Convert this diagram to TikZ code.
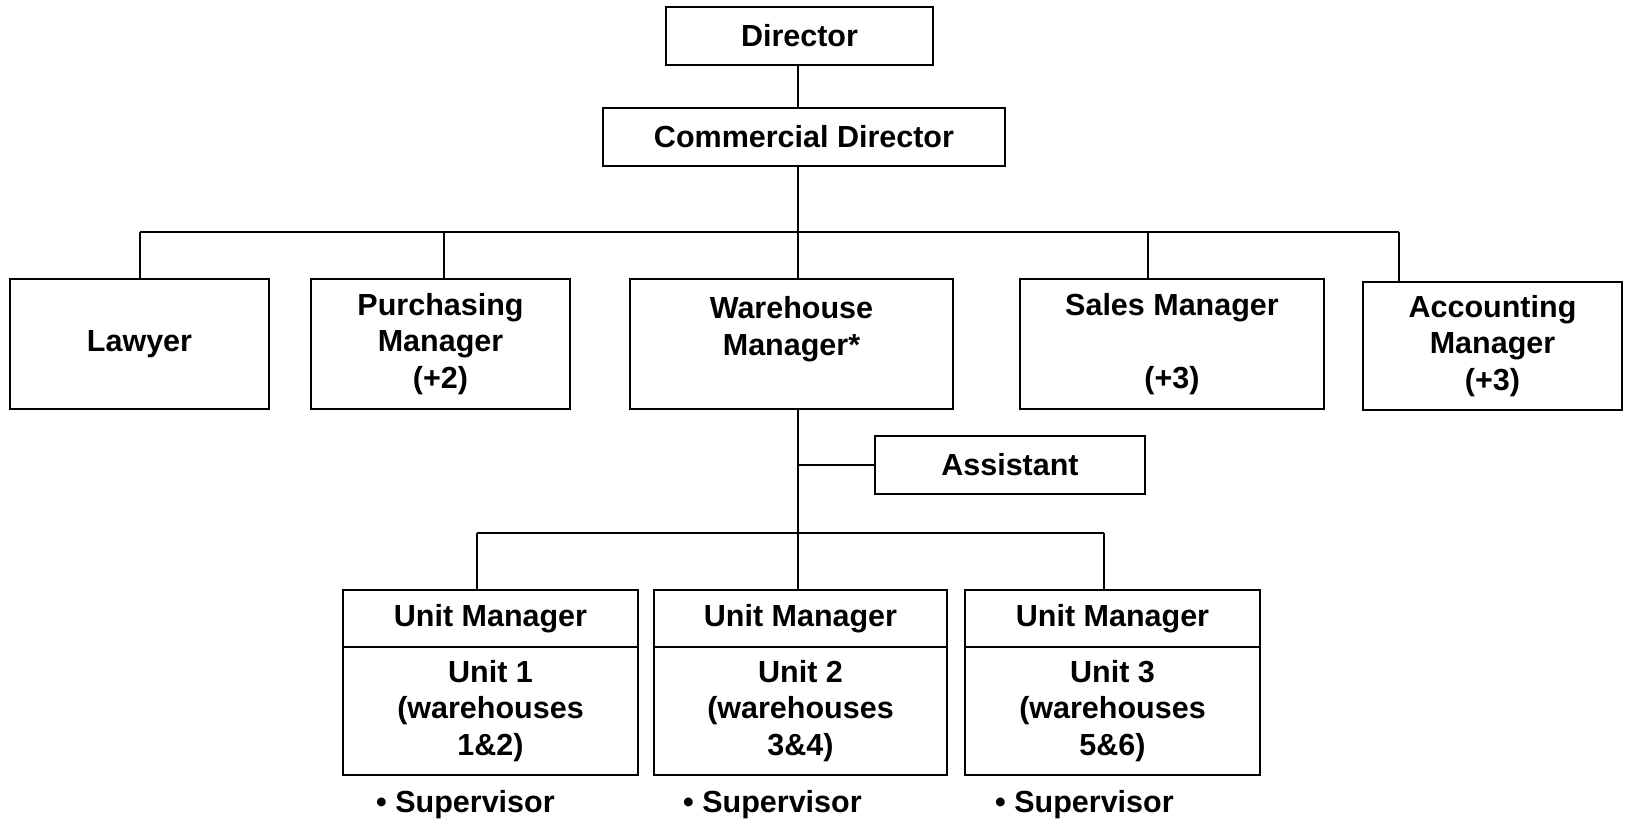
\documentclass[tikz,border=0pt]{standalone}
\usepackage{fontspec}
\setmainfont{Liberation Sans}
\begin{document}
\begin{tikzpicture}[x=1pt,y=-1pt,
  lbl/.style={font=\bfseries\fontsize{30.5}{36.5}\selectfont, align=center},
  box/.style={lbl, draw, line width=2.6pt, inner sep=0pt, outer sep=0pt, rectangle},
  link/.style={line width=2pt}]
\useasboundingbox (0,0) rectangle (1625,819);

% top of the chart
\node[box, minimum width=267, minimum height=58] (dir) at (799.5,36) {Director};
\node[box, minimum width=402, minimum height=58] (com) at (804,137) {Commercial Director};

% second row
\node[box, minimum width=259, minimum height=130] (law) at (139.5,344) {Lawyer};
\node[box, minimum width=259, minimum height=130] (pur) at (440.5,344) {Purchasing\\Manager\\(+2)};
\node[box, minimum width=323, minimum height=130] (war) at (791.5,344) {Warehouse\\Manager*\\\mbox{}};
\node[box, minimum width=304, minimum height=130] (sal) at (1172,344) {Sales Manager\\\mbox{}\\(+3)};
\node[box, minimum width=259, minimum height=128] (acc) at (1492.5,346) {Accounting\\Manager\\(+3)};

\node[box, minimum width=270, minimum height=58] (ast) at (1010,465) {Assistant};

% unit boxes: heading and body
\node[box, minimum width=295, minimum height=57] (u1h) at (490.5,618.5) {Unit Manager};
\node[box, minimum width=295, minimum height=128, anchor=north] (u1b) at (u1h.south) {Unit 1\\(warehouses\\1\&2)};
\node[box, minimum width=293, minimum height=57] (u2h) at (800.5,618.5) {Unit Manager};
\node[box, minimum width=293, minimum height=128, anchor=north] (u2b) at (u2h.south) {Unit 2\\(warehouses\\3\&4)};
\node[box, minimum width=295, minimum height=57] (u3h) at (1112.5,618.5) {Unit Manager};
\node[box, minimum width=295, minimum height=128, anchor=north] (u3b) at (u3h.south) {Unit 3\\(warehouses\\5\&6)};

\node[lbl, anchor=base west, inner sep=0pt] (s1) at (376,812) {\textbullet\ Supervisor};
\node[lbl, anchor=base west, inner sep=0pt] (s2) at (683,812) {\textbullet\ Supervisor};
\node[lbl, anchor=base west, inner sep=0pt] (s3) at (995,812) {\textbullet\ Supervisor};

% bus lines
\coordinate (busL) at (140,232);
\coordinate (busP) at (444,232);
\coordinate (busC) at (798,232);
\coordinate (busS) at (1148,232);
\coordinate (busA) at (1399,232);
\coordinate (ubL) at (477,533);
\coordinate (ubC) at (798,533);
\coordinate (ubR) at (1104,533);
\coordinate (astJ) at (798,465);

\draw[link] (busC |- dir.south) -- (busC |- com.north);
\draw[link] (busC |- com.south) -- (busC);
\draw[link] (busL) -- (busA);
\draw[link] (busL) -- (busL |- law.north);
\draw[link] (busP) -- (busP |- pur.north);
\draw[link] (busC) -- (busC |- war.north);
\draw[link] (busS) -- (busS |- sal.north);
\draw[link] (busA) -- (busA |- acc.north);

\draw[link] (ubC |- war.south) -- (ubC);
\draw[link] (astJ) -- (ast.west);
\draw[link] (ubL) -- (ubR);
\draw[link] (ubL) -- (ubL |- u1h.north);
\draw[link] (ubC) -- (ubC |- u2h.north);
\draw[link] (ubR) -- (ubR |- u3h.north);
\end{tikzpicture}
\end{document}
